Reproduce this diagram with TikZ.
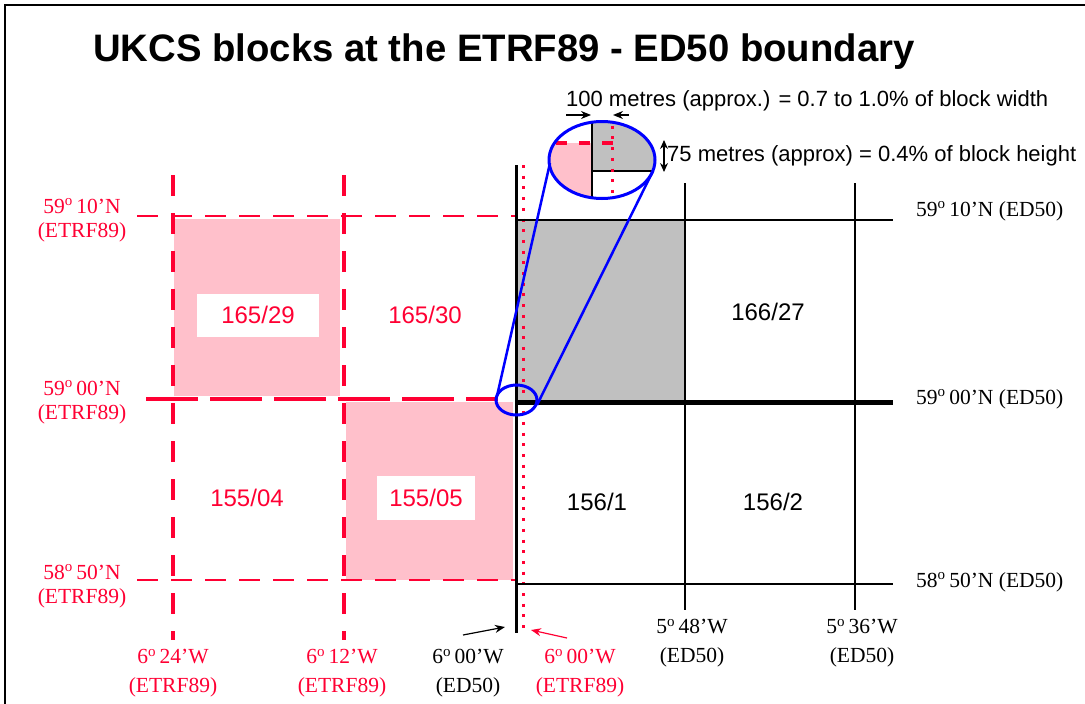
\documentclass[tikz,border=0pt]{standalone}
\usepackage{fontspec}
\setmainfont{Liberation Serif}
\newfontfamily\arialf{Liberation Sans}
\usetikzlibrary{arrows.meta}
\definecolor{etrf}{RGB}{255,0,51}
\definecolor{pinkfill}{RGB}{255,192,203}
\definecolor{grayfill}{RGB}{192,192,192}
\definecolor{zoomblue}{RGB}{0,0,255}
\begin{document}
\begin{tikzpicture}[x=1pt,y=-1pt,
  seriflab/.style={font=\fontsize{21.5}{24}\selectfont, align=center, inner sep=0pt},
  botlab/.style={font=\fontsize{21.5}{28.5}\selectfont, align=center, inner sep=0pt},
  rightlab/.style={font=\fontsize{21.5}{24}\selectfont, anchor=base west, inner sep=0pt},
  blocklab/.style={font=\arialf\fontsize{24}{28}\selectfont, inner sep=0pt},
  notelab/.style={font=\arialf\fontsize{22}{26}\selectfont, inner sep=0pt},
  etrfthin/.style={etrf, line width=2.5pt, dash pattern=on 21pt off 13pt},
  etrfthick/.style={etrf, line width=4.5pt, dash pattern=on 52pt off 12pt},
  etrfvert/.style={etrf, line width=4pt, dash pattern=on 21pt off 17pt},
  etrfdot/.style={etrf, line width=3pt, dash pattern=on 3pt off 7.7pt},
  edthin/.style={black, line width=1.5pt},
  tip/.style={-{Stealth[length=10pt,width=8pt]}, line width=1.2pt},
  zoomline/.style={zoomblue, line width=2.5pt}]
\useasboundingbox (0,0) rectangle (1085,704);
% frame
\draw[line width=2.5pt] (5,704) -- (5,5) -- (1085,5);
% title
\node[font=\arialf\bfseries\fontsize{38.3}{44}\selectfont, anchor=west, inner sep=0pt] (title) at (93,52) {UKCS blocks at the ETRF89 - ED50 boundary};
% fills
\fill[pinkfill] (174,219) rectangle (340,396);
\fill[pinkfill] (346,402) rectangle (513,580);
\fill[grayfill] (516,220) rectangle (685,402);
% ETRF89 grid
\draw[etrfthin] (137,216) -- (516,216);
\draw[etrfthin] (137,580) -- (516,580);
\draw[etrfthick] (146,399) -- (498,399);
\draw[etrfvert] (173,175) -- (173,640);
\draw[etrfvert] (344,175) -- (344,640);
\draw[etrfdot] (523,165) -- (523,632);
% ED50 grid
\draw[edthin] (516,220) -- (893,220);
\draw[black, line width=5pt] (516,402) -- (893,402);
\draw[edthin] (516,584) -- (893,584);
\draw[black, line width=3pt] (516,165) -- (516,633);
\draw[edthin] (685,183) -- (685,610);
\draw[edthin] (855,183) -- (855,610);
% block labels
\node[blocklab, fill=white, minimum width=122pt, minimum height=43pt, text=etrf] (b16529) at (258,315) {165/29};
\node[blocklab, text=etrf] (b16530) at (425,315) {165/30};
\node[blocklab, text=etrf] (b15504) at (247,498) {155/04};
\node[blocklab, fill=white, minimum width=98pt, minimum height=44pt, text=etrf] (b15505) at (426,498) {155/05};
\node[blocklab] (b16627) at (768,312) {166/27};
\node[blocklab] (b1561) at (597,502) {156/1};
\node[blocklab] (b1562) at (773,502) {156/2};
% left labels
\node[seriflab, text=etrf] (l5910) at (82,220) {59\textsuperscript{o}\,10'N\\(ETRF89)};
\node[seriflab, text=etrf] (l5900) at (82,402) {59\textsuperscript{o}\,00'N\\(ETRF89)};
\node[seriflab, text=etrf] (l5850) at (82,586) {58\textsuperscript{o}\,50'N\\(ETRF89)};
% right labels
\node[rightlab] (r5910) at (916,216) {59\textsuperscript{o}\,10'N (ED50)};
\node[rightlab] (r5900) at (916,404) {59\textsuperscript{o}\,00'N (ED50)};
\node[rightlab] (r5850) at (916,587) {58\textsuperscript{o}\,50'N (ED50)};
% bottom labels
\node[botlab, text=etrf] (w624) at (173,673) {6\textsuperscript{o}\,24'W\\(ETRF89)};
\node[botlab, text=etrf] (w612) at (342,673) {6\textsuperscript{o}\,12'W\\(ETRF89)};
\node[botlab] (w600ed) at (468,673) {6\textsuperscript{o}\,00'W\\(ED50)};
\node[botlab, text=etrf] (w600et) at (580,673) {6\textsuperscript{o}\,00'W\\(ETRF89)};
\node[botlab] (w548) at (692,643) {5\textsuperscript{o}\,48'W\\(ED50)};
\node[botlab] (w536) at (862,643) {5\textsuperscript{o}\,36'W\\(ED50)};
% pointer arrows
\coordinate (edtail) at (463,635);
\coordinate (edhead) at (505,627);
\coordinate (ettail) at (567,638);
\coordinate (ethead) at (531,630);
\draw[tip] (edtail) -- (edhead);
\draw[tip, etrf] (ettail) -- (ethead);
% zoom: small ellipse and magnified view
\coordinate (smallc) at (516.5,400);
\coordinate (bigc) at (602,160);
\begin{scope}
  \clip (bigc) ellipse [x radius=53pt, y radius=38.5pt];
  \fill[grayfill] (592,115) rectangle (660,171);
  \fill[pinkfill] (540,143) rectangle (592,205);
  \draw[black, line width=2.5pt] (592,115) -- (592,205);
  \draw[black, line width=1.5pt] (592,171) -- (660,171);
  \draw[etrf, line width=4pt, dash pattern=on 11pt off 12pt] (556,143) -- (613,143);
  \draw[etrf, line width=3pt, dash pattern=on 3pt off 7.7pt] (612,115) -- (612,205);
\end{scope}
\draw[zoomline, line width=3pt] (bigc) ellipse [x radius=53pt, y radius=38.5pt];
\draw[zoomline, line width=3pt] (smallc) ellipse [x radius=20.5pt, y radius=15pt];
\coordinate (tl1) at (497,396);
\coordinate (tl2) at (550,163);
\coordinate (tr1) at (537,405);
\coordinate (tr2) at (653,171);
\draw[zoomline] (tl1) -- (tl2);
\draw[zoomline] (tr1) -- (tr2);
% width / height notes
\node[notelab, anchor=west] (wnote) at (566,101) {100 metres (approx.) = 0.7 to 1.0\% of block width};
\node[notelab, anchor=west] (hnote) at (667,156) {75 metres (approx) = 0.4\% of block height};
\coordinate (wa1) at (566,115);
\coordinate (wa2) at (591,115);
\coordinate (wb1) at (629,115);
\coordinate (wb2) at (613,115);
\draw[tip] (wa1) -- (wa2);
\draw[tip] (wb1) -- (wb2);
\coordinate (ha1) at (664,140);
\coordinate (ha2) at (664,172);
\draw[{Stealth[length=9pt,width=8pt]}-{Stealth[length=9pt,width=8pt]}, line width=1.2pt] (ha1) -- (ha2);
\end{tikzpicture}
\end{document}
